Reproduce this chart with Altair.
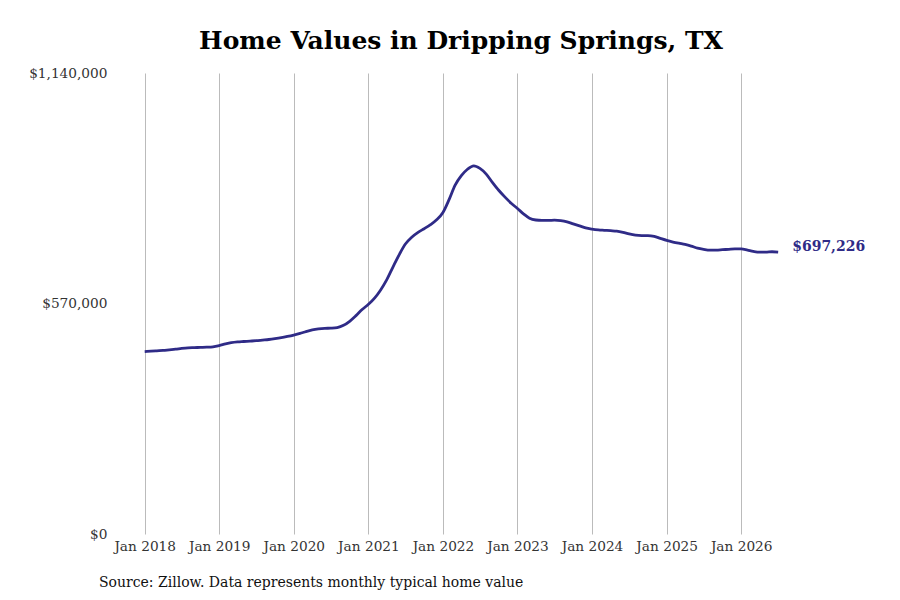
import altair as alt
import pandas as pd

months = pd.date_range("2018-01-01", "2026-07-01", freq="MS").strftime("%Y-%m-%d").tolist()

values = [
    451000, 452000, 453000, 454000, 455500, 457000, 459000, 460500, 461000, 461500, 462000, 463000,
    466000, 470000, 473000, 475000, 476000, 477000, 478000, 479500, 481000, 483000, 485500, 488500,
    492000, 496000, 500500, 504500, 507000, 508500, 509000, 510500, 516000, 526000, 540000, 555000,
    568000, 584000, 603000, 629000, 660000, 691000, 717000, 734000, 746000, 755000, 765000, 777000,
    795000, 828000, 862000, 886000, 902000, 910500, 904000, 890000, 869000, 850000, 833000, 818000,
    805000, 791000, 781000, 776500, 775500, 775500, 776000, 775000, 772000, 767000, 762000, 757000,
    754000, 752000, 751000, 750000, 749000, 746000, 742000, 739000, 738000, 738000, 736000, 731000,
    726000, 722000, 719000, 716000, 712000, 707000, 704000, 702000, 702000, 703000, 704000, 705000,
    705000, 702000, 699000, 697000, 697000, 698000, 697226,
]

y_ticks = [0, 570000, 1140000]
tick_years = [f"{y}-01-01" for y in range(2018, 2027)]
title_text = "Home Values in Dripping Springs, TX"
source_text = "Source: Zillow. Data represents monthly typical home value"
end_label = "$697,226"

FONT = "DejaVu Serif"
LINE_COLOR = "#2f2b87"

df = pd.DataFrame({"date": months, "value": values})
last = df.tail(1).assign(label=end_label)

x_scale = alt.Scale(domain=["2017-07-15", "2026-08-28"])
y_scale = alt.Scale(domain=[0, 1140000], nice=False)

x_enc = alt.X(
    "date:T",
    scale=x_scale,
    axis=alt.Axis(
        values=tick_years,
        format="%b %Y",
        grid=True,
        gridColor="#bbbbbb",
        gridWidth=1,
        domain=False,
        ticks=False,
        labelPadding=5,
        labelFont=FONT,
        labelFontSize=13.7,
        labelColor="#333333",
        title=None,
    ),
)
y_enc = alt.Y(
    "value:Q",
    scale=y_scale,
    axis=alt.Axis(
        values=y_ticks,
        format="$,.0f",
        grid=False,
        domain=False,
        ticks=False,
        labelPadding=3,
        labelFont=FONT,
        labelFontSize=13.7,
        labelColor="#333333",
        title=None,
    ),
)

line = alt.Chart(df).mark_line(color=LINE_COLOR, strokeWidth=2.8, interpolate="monotone").encode(
    x=x_enc, y=y_enc
)

label = alt.Chart(last).mark_text(
    align="left", baseline="middle", dx=14, dy=-5, font=FONT, fontSize=14, fontWeight="bold", color=LINE_COLOR
).encode(x="date:T", y="value:Q", text="label:N")

source = alt.Chart(pd.DataFrame({"t": [source_text]})).mark_text(
    align="left", baseline="middle", font=FONT, fontSize=14, color="#111111"
).encode(x=alt.value(-11), y=alt.value(510), text="t:N")

chart = (
    alt.layer(line, label, source)
    .properties(
        width=680,
        height=461,
        background="white",
        padding={"left": 102, "top": 65, "right": 102, "bottom": 58},
        autosize=alt.AutoSizeParams(type="none"),
        title=alt.TitleParams(
            title_text, font=FONT, fontSize=25, fontWeight="bold", color="#000000", anchor="middle", dx=11, offset=12
        ),
    )
    .configure_view(stroke=None, strokeWidth=0)
)

chart.save("out.html", embed_options={"renderer": "svg", "actions": False})
